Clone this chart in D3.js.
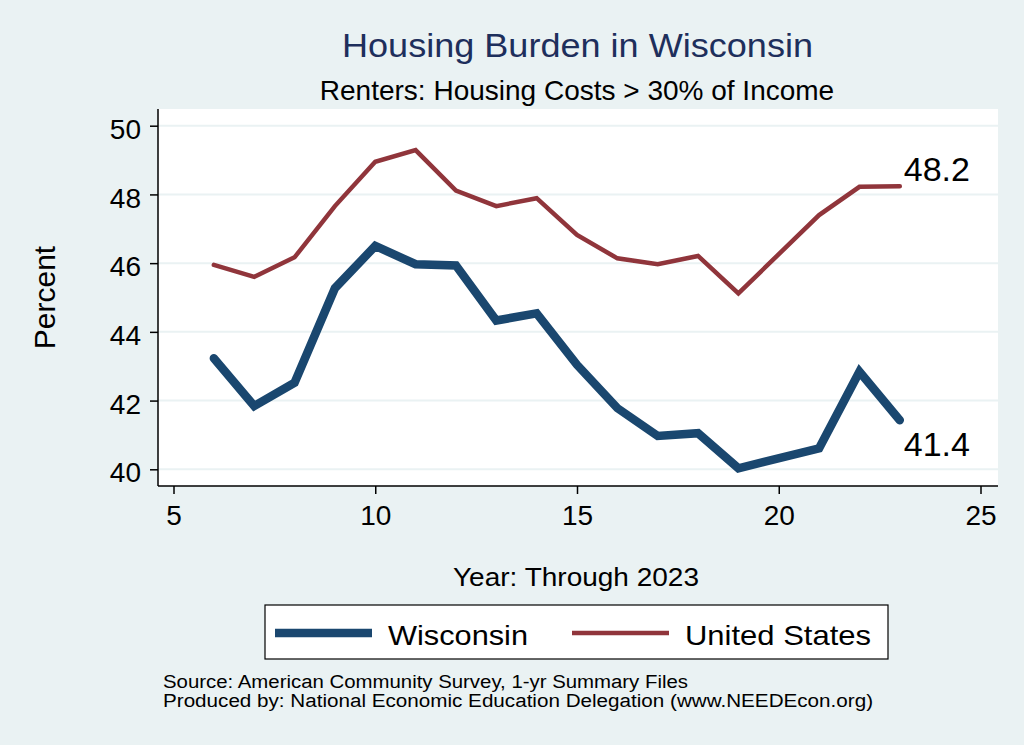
<!DOCTYPE html>
<html>
<head>
<meta charset="utf-8">
<script src="https://cdn.jsdelivr.net/npm/d3@7"></script>
<style>
  body { margin: 0; background: #eaf2f3; }
  svg { display: block; font-family: "Liberation Sans", Arial, sans-serif; }
</style>
</head>
<body>
<svg id="chart" width="1024" height="745"></svg>
<script>
// years since 2000 (2020 1-yr ACS was not released)
const years = [6, 7, 8, 9, 10, 11, 12, 13, 14, 15, 16, 17, 18, 19, 21, 22, 23];
const wisconsin = [43.23, 41.84, 42.52, 45.27, 46.5, 45.97, 45.93, 44.33, 44.54, 43.04, 41.78, 40.97, 41.05, 40.03, 40.61, 42.84, 41.43];
const unitedStates = [45.95, 45.6, 46.17, 47.66, 48.95, 49.29, 48.11, 47.66, 47.89, 46.82, 46.14, 45.97, 46.21, 45.12, 47.4, 48.22, 48.24];
const xTicks = [5, 10, 15, 20, 25];
const yTicks = [40, 42, 44, 46, 48, 50];
const series = [
    { name: 'Wisconsin', values: wisconsin, color: '#1a476f', width: 8.5, label: '41.4', dy: 36, legendLen: 140 },
    { name: 'United States', values: unitedStates, color: '#90353b', width: 4.5, label: '48.2', dy: -5, legendLen: 186 },
];

const svg = d3.select('#chart');
const plot = { left: 158, right: 998, top: 109, bottom: 486 };

const xScale = d3.scaleLinear().domain([5, 25]).range([173.5, 980.5]);
const yScale = d3.scaleLinear().domain([40, 50]).range([469.3, 125.7]);

// plot region
svg.append('rect')
    .attr('x', plot.left)
    .attr('y', plot.top)
    .attr('width', plot.right - plot.left)
    .attr('height', plot.bottom - plot.top)
    .attr('fill', '#ffffff');

// grid
svg.append('g')
    .selectAll('line')
    .data(yTicks)
    .join('line')
    .attr('x1', plot.left)
    .attr('x2', plot.right)
    .attr('y1', (d) => yScale(d))
    .attr('y2', (d) => yScale(d))
    .attr('stroke', '#eaf2f3')
    .attr('stroke-width', 2);

// axes
const yAxis = svg.append('g')
    .attr('transform', `translate(${plot.left},0)`)
    .call(d3.axisLeft(yScale).tickValues(yTicks).tickSize(8).tickPadding(9));
yAxis.select('.domain').attr('d', `M0,${plot.top}V${plot.bottom}`).attr('stroke', '#000').attr('stroke-width', 1.5);
yAxis.selectAll('.tick line').attr('stroke-width', 1.5);
yAxis.selectAll('.tick text')
    .attr('font-size', 28)
    .attr('dy', '0.45em')
    .attr('fill', '#000')
    .attr('font-family', 'Liberation Sans, Arial, sans-serif');

const xAxis = svg.append('g')
    .attr('transform', `translate(0,${plot.bottom})`)
    .call(d3.axisBottom(xScale).tickValues(xTicks).tickSize(8).tickPadding(11));
xAxis.select('.domain').attr('d', `M${plot.left},0H${plot.right}`).attr('stroke', '#000').attr('stroke-width', 1.5);
xAxis.selectAll('.tick line').attr('stroke-width', 1.5);
xAxis.selectAll('.tick text')
    .attr('font-size', 28)
    .attr('fill', '#000')
    .attr('font-family', 'Liberation Sans, Arial, sans-serif');

// lines
const line = d3.line()
    .x((d) => xScale(d[0]))
    .y((d) => yScale(d[1]));

series.slice().reverse().forEach((s) => {
    const pts = years.map((yr, i) => [yr, s.values[i]]);
    svg.append('path')
        .attr('d', line(pts))
        .attr('fill', 'none')
        .attr('stroke', s.color)
        .attr('stroke-width', s.width)
        .attr('stroke-linejoin', 'miter')
        .attr('stroke-linecap', 'round');
    const last = pts[pts.length - 1];
    svg.append('text')
        .attr('x', xScale(last[0]) + 4)
        .attr('y', yScale(last[1]) + s.dy)
        .attr('font-size', 34)
        .attr('fill', '#000')
        .text(s.label);
});

// titles
svg.append('text')
    .attr('x', 342).attr('y', 57)
    .attr('font-size', 33)
    .attr('fill', '#1e2f5c')
    .attr('textLength', 471)
    .attr('lengthAdjust', 'spacingAndGlyphs')
    .text('Housing Burden in Wisconsin');
svg.append('text')
    .attr('x', 577).attr('y', 100)
    .attr('text-anchor', 'middle')
    .attr('font-size', 28)
    .attr('fill', '#000')
    .text('Renters: Housing Costs > 30% of Income');

svg.append('text')
    .attr('transform', `translate(55,${(plot.top + plot.bottom) / 2}) rotate(-90)`)
    .attr('text-anchor', 'middle')
    .attr('font-size', 30)
    .attr('fill', '#000')
    .text('Percent');

svg.append('text')
    .attr('x', 453).attr('y', 586)
    .attr('font-size', 26)
    .attr('fill', '#000')
    .attr('textLength', 246)
    .attr('lengthAdjust', 'spacingAndGlyphs')
    .text('Year: Through 2023');

// legend
const legend = svg.append('g');
legend.append('rect')
    .attr('x', 265).attr('y', 605)
    .attr('width', 623).attr('height', 54)
    .attr('fill', '#fff')
    .attr('stroke', '#000')
    .attr('stroke-width', 1.2);
const legendX = [275, 572];
series.forEach((s, i) => {
    legend.append('line')
        .attr('x1', legendX[i]).attr('x2', legendX[i] + 97)
        .attr('y1', 633).attr('y2', 633)
        .attr('stroke', s.color)
        .attr('stroke-width', s.width);
    legend.append('text')
        .attr('x', legendX[i] + 113).attr('y', 645)
        .attr('font-size', 28)
        .attr('fill', '#000')
        .attr('textLength', s.legendLen)
        .attr('lengthAdjust', 'spacingAndGlyphs')
        .text(s.name);
});

// notes
svg.append('text')
    .attr('x', 163).attr('y', 688)
    .attr('font-size', 18)
    .attr('fill', '#000')
    .attr('textLength', 525)
    .attr('lengthAdjust', 'spacingAndGlyphs')
    .text('Source: American Community Survey, 1-yr Summary Files');
svg.append('text')
    .attr('x', 163).attr('y', 707)
    .attr('font-size', 18)
    .attr('fill', '#000')
    .attr('textLength', 710)
    .attr('lengthAdjust', 'spacingAndGlyphs')
    .text('Produced by: National Economic Education Delegation (www.NEEDEcon.org)');
</script>
</body>
</html>
